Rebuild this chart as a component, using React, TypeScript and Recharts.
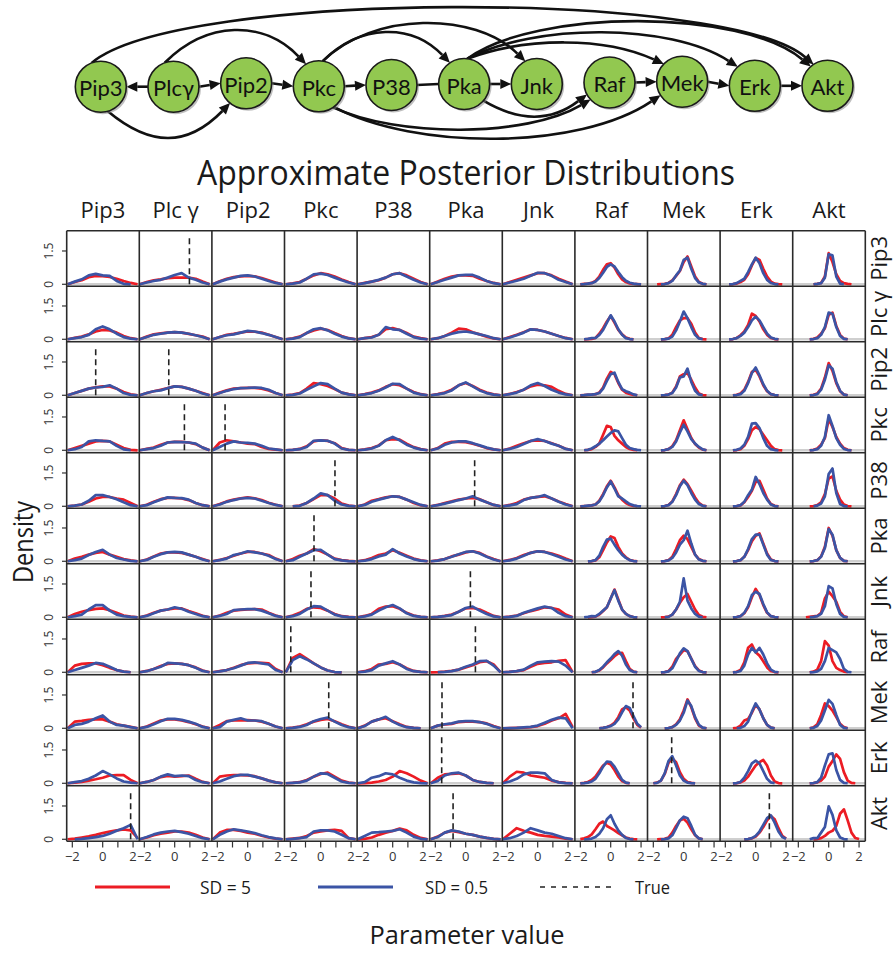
import React from 'react';
import { LineChart, Line, XAxis, YAxis, ScatterChart, Scatter } from 'recharts';

// ---------------- labels ----------------
const NODE_NAMES = ['Pip3', 'Plcγ', 'Pip2', 'Pkc', 'P38', 'Pka', 'Jnk', 'Raf', 'Mek', 'Erk', 'Akt'];
const NODE_Y = [-1.7, -1.7, 1.7, -1.3, 0, 1, 1, 2.5, 3.3, -0.8, -0.8];
const COL_HEADERS = ['Pip3', 'Plc γ', 'Pip2', 'Pkc', 'P38', 'Pka', 'Jnk', 'Raf', 'Mek', 'Erk', 'Akt'];
const ROW_LABELS = ['Pip3', 'Plc γ', 'Pip2', 'Pkc', 'P38', 'Pka', 'Jnk', 'Raf', 'Mek', 'Erk', 'Akt'];
const TITLE = 'Approximate Posterior Distributions';
const X_TITLE = 'Parameter value';
const Y_TITLE = 'Density';
const LEGEND = ['SD = 5', 'SD = 0.5', 'True'];

// ---------------- x grids / ticks ----------------
const BROAD_X = [-2.3, -1.84, -1.38, -0.92, -0.46, 0, 0.46, 0.92, 1.38, 1.84, 2.3];
const PEAK_X = [-2, -1.75, -1.5, -1.25, -1, -0.75, -0.5, -0.25, 0, 0.25, 0.5, 0.75, 1, 1.25, 1.5, 1.75, 2];
const X_TICKS = [-2, -1, 0, 1, 2];
const Y_TICKS = [0, 1.5];
const TRUE_TOP = 2.1;

// ---------------- densities (row = response, col = parent) ----------------
const RED_PIP3 = [
  [0, 0.1, 0.18, 0.32, 0.38, 0.37, 0.33, 0.25, 0.15, 0.06, 0],
  [0, 0.1, 0.18, 0.22, 0.28, 0.3, 0.3, 0.3, 0.25, 0.12, 0],
  [0, 0.14, 0.25, 0.32, 0.36, 0.38, 0.36, 0.28, 0.18, 0.08, 0],
  [0, 0.04, 0.1, 0.25, 0.4, 0.5, 0.45, 0.35, 0.22, 0.1, 0],
  [0, 0.06, 0.12, 0.18, 0.3, 0.45, 0.5, 0.4, 0.25, 0.1, 0],
  [0, 0.12, 0.25, 0.35, 0.4, 0.4, 0.38, 0.25, 0.15, 0.06, 0],
  [0, 0.1, 0.2, 0.3, 0.4, 0.5, 0.5, 0.4, 0.25, 0.12, 0],
  [0, 0.02, 0.03, 0.06, 0.15, 0.35, 0.65, 0.9, 0.95, 0.75, 0.45, 0.22, 0.1, 0.04, 0.02, 0.01, 0],
  [0, 0, 0.01, 0.02, 0.06, 0.18, 0.38, 0.6, 1.0, 1.25, 0.8, 0.35, 0.1, 0.02, 0, 0, 0],
  [0, 0, 0.01, 0.03, 0.1, 0.2, 0.45, 0.85, 1.18, 1.1, 0.7, 0.35, 0.12, 0.03, 0.01, 0, 0],
  [0, 0, 0, 0, 0, 0.02, 0.06, 0.35, 1.4, 1.0, 0.45, 0.15, 0.05, 0.02, 0, 0, 0],
];
const BLUE_PIP3 = [
  [0, 0.12, 0.22, 0.4, 0.47, 0.4, 0.38, 0.15, 0.02, 0, 0],
  [0, 0.08, 0.15, 0.2, 0.3, 0.42, 0.5, 0.3, 0.2, 0.08, 0],
  [0, 0.12, 0.22, 0.3, 0.38, 0.4, 0.35, 0.25, 0.15, 0.06, 0],
  [0, 0.03, 0.08, 0.25, 0.45, 0.48, 0.42, 0.3, 0.18, 0.08, 0],
  [0, 0.05, 0.12, 0.2, 0.3, 0.45, 0.5, 0.35, 0.2, 0.08, 0],
  [0, 0.1, 0.2, 0.3, 0.4, 0.42, 0.42, 0.3, 0.15, 0.05, 0],
  [0, 0.08, 0.16, 0.25, 0.38, 0.52, 0.5, 0.38, 0.2, 0.1, 0],
  [0, 0.01, 0.03, 0.05, 0.12, 0.28, 0.52, 0.78, 0.9, 0.8, 0.55, 0.32, 0.16, 0.07, 0.03, 0.01, 0],
  [0, 0, 0, 0.01, 0.05, 0.15, 0.4, 0.62, 1.1, 1.2, 0.7, 0.28, 0.08, 0.02, 0, 0, 0],
  [0, 0, 0.01, 0.05, 0.15, 0.25, 0.55, 0.9, 1.2, 0.95, 0.5, 0.2, 0.06, 0.01, 0, 0, 0],
  [0, 0, 0, 0, 0, 0.02, 0.05, 0.3, 1.35, 1.3, 0.35, 0.03, 0, 0, 0, 0, 0],
];
const RED_PLCG = [
  [0, 0.06, 0.12, 0.22, 0.35, 0.42, 0.4, 0.3, 0.15, 0.05, 0],
  [0, 0.12, 0.22, 0.27, 0.3, 0.32, 0.3, 0.24, 0.18, 0.12, 0],
  [0, 0.1, 0.2, 0.24, 0.3, 0.35, 0.34, 0.3, 0.2, 0.1, 0],
  [0, 0.04, 0.12, 0.28, 0.4, 0.48, 0.42, 0.28, 0.15, 0.05, 0],
  [0, 0.05, 0.1, 0.2, 0.45, 0.5, 0.42, 0.28, 0.12, 0.05, 0],
  [0, 0.05, 0.15, 0.3, 0.48, 0.45, 0.32, 0.22, 0.12, 0.04, 0],
  [0, 0.1, 0.2, 0.32, 0.45, 0.42, 0.35, 0.25, 0.15, 0.06, 0],
  [0, 0, 0.01, 0.02, 0.06, 0.25, 0.5, 0.8, 1.05, 0.75, 0.42, 0.22, 0.08, 0.02, 0, 0, 0],
  [0, 0, 0, 0.01, 0.04, 0.2, 0.55, 0.85, 0.95, 0.95, 0.7, 0.3, 0.06, 0.01, 0, 0, 0],
  [0, 0, 0.01, 0.06, 0.18, 0.35, 0.65, 1.15, 1.05, 0.8, 0.45, 0.2, 0.06, 0.01, 0, 0, 0],
  [0, 0, 0, 0, 0.02, 0.08, 0.25, 0.5, 1.1, 1.2, 0.6, 0.2, 0.03, 0, 0, 0, 0],
];
const BLUE_PLCG = [
  [0, 0.05, 0.1, 0.2, 0.45, 0.58, 0.45, 0.25, 0.1, 0.03, 0],
  [0, 0.1, 0.2, 0.25, 0.3, 0.32, 0.3, 0.25, 0.18, 0.1, 0],
  [0, 0.1, 0.18, 0.22, 0.3, 0.38, 0.35, 0.28, 0.2, 0.1, 0],
  [0, 0.03, 0.1, 0.28, 0.45, 0.5, 0.4, 0.25, 0.12, 0.04, 0],
  [0, 0.05, 0.08, 0.2, 0.55, 0.45, 0.42, 0.25, 0.1, 0.03, 0],
  [0, 0.05, 0.15, 0.25, 0.32, 0.35, 0.3, 0.22, 0.15, 0.05, 0],
  [0, 0.08, 0.18, 0.3, 0.45, 0.42, 0.35, 0.25, 0.15, 0.05, 0],
  [0, 0, 0.02, 0.05, 0.06, 0.2, 0.42, 0.75, 1.08, 0.8, 0.45, 0.2, 0.05, 0.01, 0, 0, 0],
  [0, 0, 0, 0.01, 0.03, 0.12, 0.4, 0.8, 1.25, 0.95, 0.55, 0.2, 0.04, 0, 0, 0, 0],
  [0, 0, 0.01, 0.05, 0.15, 0.3, 0.55, 0.85, 1.02, 0.85, 0.55, 0.25, 0.08, 0.02, 0, 0, 0],
  [0, 0, 0, 0, 0.01, 0.05, 0.2, 0.55, 1.2, 1.15, 0.55, 0.15, 0.02, 0, 0, 0, 0],
];
const RED_PIP2 = [
  [0, 0.1, 0.2, 0.3, 0.36, 0.4, 0.4, 0.3, 0.15, 0.04, 0],
  [0, 0.1, 0.18, 0.25, 0.32, 0.4, 0.38, 0.3, 0.2, 0.1, 0],
  [0, 0.12, 0.22, 0.3, 0.32, 0.33, 0.33, 0.3, 0.22, 0.1, 0],
  [0, 0.03, 0.1, 0.3, 0.55, 0.5, 0.42, 0.28, 0.12, 0.05, 0],
  [0, 0.05, 0.12, 0.22, 0.38, 0.5, 0.45, 0.3, 0.15, 0.05, 0],
  [0, 0.05, 0.12, 0.25, 0.45, 0.55, 0.42, 0.25, 0.12, 0.04, 0],
  [0, 0.06, 0.15, 0.25, 0.4, 0.48, 0.45, 0.38, 0.2, 0.06, 0],
  [0, 0.01, 0.02, 0.03, 0.05, 0.12, 0.35, 0.75, 1.05, 0.95, 0.55, 0.25, 0.12, 0.06, 0.02, 0, 0],
  [0, 0, 0, 0.01, 0.03, 0.12, 0.4, 0.85, 0.95, 1.0, 0.7, 0.35, 0.08, 0.01, 0, 0, 0],
  [0, 0, 0, 0.02, 0.08, 0.25, 0.6, 1.05, 1.15, 0.85, 0.45, 0.18, 0.05, 0.01, 0, 0, 0],
  [0, 0, 0, 0, 0.02, 0.08, 0.3, 0.8, 1.45, 1.1, 0.55, 0.18, 0.03, 0, 0, 0, 0],
];
const BLUE_PIP2 = [
  [0, 0.1, 0.2, 0.3, 0.35, 0.38, 0.45, 0.3, 0.1, 0.02, 0],
  [0, 0.1, 0.18, 0.22, 0.32, 0.4, 0.38, 0.3, 0.2, 0.08, 0],
  [0, 0.1, 0.2, 0.28, 0.32, 0.33, 0.35, 0.33, 0.25, 0.1, 0],
  [0, 0.02, 0.08, 0.25, 0.4, 0.55, 0.5, 0.3, 0.12, 0.04, 0],
  [0, 0.04, 0.1, 0.2, 0.35, 0.52, 0.5, 0.3, 0.12, 0.04, 0],
  [0, 0.04, 0.1, 0.22, 0.45, 0.58, 0.4, 0.22, 0.1, 0.03, 0],
  [0, 0.05, 0.12, 0.25, 0.45, 0.55, 0.42, 0.25, 0.12, 0.04, 0],
  [0, 0.01, 0.03, 0.03, 0.05, 0.1, 0.3, 0.65, 0.95, 1.02, 0.6, 0.28, 0.18, 0.12, 0.04, 0, 0],
  [0, 0, 0, 0.01, 0.03, 0.1, 0.35, 0.8, 0.85, 1.2, 0.6, 0.2, 0.04, 0, 0, 0, 0],
  [0, 0, 0, 0.01, 0.05, 0.2, 0.55, 1.0, 1.25, 0.9, 0.5, 0.2, 0.05, 0.01, 0, 0, 0],
  [0, 0, 0, 0, 0.01, 0.05, 0.25, 0.7, 1.35, 1.2, 0.6, 0.2, 0.03, 0, 0, 0, 0],
];
const RED_PKC = [
  [0, 0.1, 0.2, 0.3, 0.4, 0.42, 0.4, 0.25, 0.1, 0.02, 0],
  [0, 0.06, 0.12, 0.25, 0.35, 0.38, 0.38, 0.35, 0.28, 0.12, 0],
  [0, 0.35, 0.45, 0.4, 0.35, 0.3, 0.28, 0.15, 0.06, 0.03, 0],
  [0, 0.02, 0.06, 0.18, 0.4, 0.45, 0.42, 0.32, 0.1, 0.02, 0],
  [0, 0.04, 0.1, 0.22, 0.45, 0.5, 0.48, 0.3, 0.14, 0.05, 0],
  [0, 0.1, 0.3, 0.38, 0.38, 0.37, 0.3, 0.2, 0.1, 0.04, 0],
  [0, 0.08, 0.2, 0.32, 0.42, 0.45, 0.42, 0.32, 0.2, 0.07, 0],
  [0, 0, 0.02, 0.05, 0.15, 0.3, 0.7, 1.1, 1.05, 0.65, 0.45, 0.3, 0.15, 0.06, 0.02, 0, 0],
  [0, 0, 0, 0.01, 0.05, 0.18, 0.45, 0.9, 1.35, 0.95, 0.55, 0.28, 0.12, 0.03, 0, 0, 0],
  [0, 0, 0, 0.01, 0.05, 0.2, 0.5, 0.9, 1.05, 0.95, 0.7, 0.45, 0.2, 0.05, 0.01, 0, 0],
  [0, 0, 0, 0, 0.02, 0.08, 0.25, 0.55, 1.4, 1.05, 0.6, 0.3, 0.1, 0.02, 0, 0, 0],
];
const BLUE_PKC = [
  [0, 0.05, 0.15, 0.4, 0.45, 0.42, 0.4, 0.2, 0.04, 0, 0],
  [0, 0.05, 0.1, 0.2, 0.35, 0.38, 0.37, 0.35, 0.3, 0.12, 0],
  [0, 0.15, 0.3, 0.4, 0.35, 0.33, 0.3, 0.2, 0.08, 0.04, 0],
  [0, 0.02, 0.05, 0.15, 0.43, 0.45, 0.43, 0.3, 0.08, 0.02, 0],
  [0, 0.03, 0.08, 0.2, 0.45, 0.6, 0.45, 0.25, 0.12, 0.04, 0],
  [0, 0.08, 0.25, 0.35, 0.4, 0.4, 0.32, 0.22, 0.12, 0.04, 0],
  [0, 0.06, 0.15, 0.28, 0.42, 0.5, 0.42, 0.3, 0.2, 0.06, 0],
  [0, 0, 0.02, 0.08, 0.18, 0.3, 0.45, 0.62, 0.78, 0.9, 0.85, 0.55, 0.25, 0.1, 0.05, 0.02, 0],
  [0, 0, 0, 0.01, 0.05, 0.15, 0.4, 0.8, 1.15, 0.85, 0.5, 0.3, 0.15, 0.04, 0, 0, 0],
  [0, 0, 0, 0.02, 0.08, 0.25, 0.6, 1.2, 1.22, 1.0, 0.55, 0.2, 0.05, 0.01, 0, 0, 0],
  [0, 0, 0, 0, 0.01, 0.05, 0.2, 0.6, 1.58, 1.1, 0.55, 0.25, 0.06, 0.01, 0, 0, 0],
];
const RED_P38 = [
  [0, 0.03, 0.08, 0.2, 0.35, 0.42, 0.42, 0.35, 0.3, 0.15, 0],
  [0, 0.07, 0.2, 0.32, 0.38, 0.38, 0.35, 0.28, 0.15, 0.05, 0],
  [0, 0.1, 0.22, 0.3, 0.36, 0.4, 0.36, 0.28, 0.16, 0.07, 0],
  [0, 0, 0.03, 0.15, 0.32, 0.5, 0.5, 0.35, 0.12, 0.03, 0],
  [0, 0.08, 0.25, 0.32, 0.4, 0.45, 0.42, 0.3, 0.15, 0.05, 0],
  [0, 0.06, 0.15, 0.22, 0.3, 0.35, 0.38, 0.32, 0.18, 0.06, 0],
  [0, 0.06, 0.15, 0.3, 0.38, 0.42, 0.45, 0.35, 0.22, 0.1, 0],
  [0, 0.01, 0.02, 0.04, 0.08, 0.25, 0.55, 0.9, 1.15, 0.85, 0.5, 0.3, 0.15, 0.06, 0.02, 0, 0],
  [0, 0, 0, 0.01, 0.06, 0.22, 0.55, 0.95, 1.2, 1.0, 0.7, 0.4, 0.15, 0.03, 0, 0, 0],
  [0, 0, 0, 0.01, 0.04, 0.18, 0.42, 0.7, 1.1, 1.15, 0.75, 0.35, 0.1, 0.02, 0, 0, 0],
  [0, 0, 0, 0, 0.01, 0.05, 0.18, 0.55, 1.25, 1.35, 0.7, 0.3, 0.08, 0.01, 0, 0, 0],
];
const BLUE_P38 = [
  [0, 0.03, 0.08, 0.25, 0.5, 0.5, 0.42, 0.32, 0.18, 0.05, 0],
  [0, 0.05, 0.18, 0.3, 0.4, 0.38, 0.37, 0.3, 0.15, 0.05, 0],
  [0, 0.08, 0.2, 0.28, 0.35, 0.38, 0.35, 0.25, 0.15, 0.06, 0],
  [0, 0, 0.02, 0.15, 0.35, 0.58, 0.5, 0.25, 0.08, 0.02, 0],
  [0, 0.06, 0.2, 0.3, 0.38, 0.45, 0.42, 0.3, 0.18, 0.06, 0],
  [0, 0.05, 0.12, 0.2, 0.28, 0.35, 0.45, 0.3, 0.18, 0.06, 0],
  [0, 0.04, 0.1, 0.28, 0.38, 0.42, 0.5, 0.35, 0.2, 0.08, 0],
  [0, 0.01, 0.03, 0.04, 0.08, 0.22, 0.5, 0.85, 1.12, 0.8, 0.45, 0.35, 0.22, 0.1, 0.04, 0.01, 0],
  [0, 0, 0, 0.01, 0.05, 0.2, 0.5, 0.9, 1.15, 0.95, 0.6, 0.3, 0.1, 0.02, 0, 0, 0],
  [0, 0, 0, 0.01, 0.05, 0.2, 0.5, 0.75, 1.32, 1.0, 0.6, 0.3, 0.08, 0.01, 0, 0, 0],
  [0, 0, 0, 0, 0, 0.03, 0.12, 0.45, 1.45, 1.7, 0.6, 0.1, 0.01, 0, 0, 0, 0],
];
const RED_PKA = [
  [0, 0.12, 0.2, 0.3, 0.38, 0.42, 0.3, 0.2, 0.1, 0.04, 0],
  [0, 0.08, 0.22, 0.35, 0.4, 0.4, 0.38, 0.3, 0.2, 0.1, 0],
  [0, 0.06, 0.15, 0.25, 0.35, 0.42, 0.42, 0.35, 0.28, 0.12, 0],
  [0, 0.1, 0.25, 0.35, 0.55, 0.45, 0.3, 0.12, 0.05, 0.02, 0],
  [0, 0.05, 0.15, 0.28, 0.35, 0.5, 0.38, 0.25, 0.12, 0.04, 0],
  [0, 0.04, 0.1, 0.22, 0.3, 0.4, 0.45, 0.38, 0.22, 0.1, 0],
  [0, 0.06, 0.15, 0.28, 0.38, 0.45, 0.42, 0.35, 0.25, 0.12, 0],
  [0, 0, 0, 0.01, 0.04, 0.18, 0.5, 0.85, 1.12, 1.05, 0.65, 0.35, 0.18, 0.06, 0.02, 0, 0],
  [0, 0, 0, 0.01, 0.05, 0.2, 0.55, 0.95, 1.15, 1.0, 0.65, 0.3, 0.1, 0.02, 0, 0, 0],
  [0, 0, 0, 0.01, 0.05, 0.2, 0.5, 0.9, 1.15, 1.25, 0.8, 0.35, 0.08, 0.01, 0, 0, 0],
  [0, 0, 0, 0, 0.01, 0.05, 0.22, 0.65, 1.5, 1.15, 0.5, 0.15, 0.02, 0, 0, 0, 0],
];
const BLUE_PKA = [
  [0, 0.05, 0.12, 0.28, 0.42, 0.52, 0.3, 0.15, 0.08, 0.02, 0],
  [0, 0.06, 0.2, 0.32, 0.4, 0.42, 0.4, 0.3, 0.2, 0.08, 0],
  [0, 0.05, 0.12, 0.28, 0.35, 0.45, 0.4, 0.35, 0.25, 0.1, 0],
  [0, 0.05, 0.2, 0.35, 0.5, 0.52, 0.3, 0.1, 0.04, 0.01, 0],
  [0, 0.03, 0.1, 0.22, 0.3, 0.55, 0.35, 0.22, 0.1, 0.03, 0],
  [0, 0.03, 0.1, 0.2, 0.32, 0.42, 0.45, 0.35, 0.2, 0.08, 0],
  [0, 0.04, 0.12, 0.25, 0.38, 0.45, 0.42, 0.32, 0.2, 0.08, 0],
  [0, 0, 0, 0.01, 0.05, 0.25, 0.65, 0.98, 1.02, 0.75, 0.5, 0.3, 0.15, 0.05, 0.01, 0, 0],
  [0, 0, 0, 0.01, 0.04, 0.15, 0.4, 0.75, 0.95, 1.38, 0.8, 0.3, 0.08, 0.02, 0, 0, 0],
  [0, 0, 0, 0.01, 0.05, 0.2, 0.55, 1.0, 1.2, 1.2, 0.75, 0.3, 0.06, 0.01, 0, 0, 0],
  [0, 0, 0, 0, 0.01, 0.05, 0.2, 0.6, 1.45, 1.2, 0.5, 0.15, 0.02, 0, 0, 0, 0],
];
const RED_JNK = [
  [0, 0.15, 0.25, 0.32, 0.38, 0.4, 0.32, 0.2, 0.08, 0.03, 0],
  [0, 0.08, 0.2, 0.3, 0.35, 0.4, 0.4, 0.28, 0.18, 0.07, 0],
  [0, 0.08, 0.2, 0.3, 0.33, 0.35, 0.37, 0.35, 0.2, 0.08, 0],
  [0, 0.08, 0.2, 0.38, 0.45, 0.42, 0.3, 0.15, 0.05, 0.02, 0],
  [0, 0.06, 0.15, 0.38, 0.48, 0.5, 0.38, 0.2, 0.08, 0.02, 0],
  [0, 0.02, 0.06, 0.12, 0.25, 0.4, 0.42, 0.35, 0.2, 0.06, 0],
  [0, 0.03, 0.08, 0.18, 0.28, 0.35, 0.45, 0.42, 0.35, 0.12, 0],
  [0, 0, 0, 0.01, 0.03, 0.12, 0.28, 0.45, 0.85, 1.25, 0.8, 0.35, 0.15, 0.05, 0.01, 0, 0],
  [0, 0, 0, 0.01, 0.03, 0.12, 0.35, 0.65, 0.9, 1.05, 0.7, 0.35, 0.1, 0.02, 0, 0, 0],
  [0, 0, 0, 0.01, 0.05, 0.18, 0.45, 0.9, 1.28, 1.0, 0.55, 0.2, 0.05, 0.01, 0, 0, 0],
  [0, 0, 0, 0.02, 0.04, 0.06, 0.2, 0.85, 1.15, 0.95, 0.7, 0.25, 0.04, 0, 0, 0, 0],
];
const BLUE_JNK = [
  [0, 0.05, 0.12, 0.35, 0.55, 0.55, 0.3, 0.12, 0.05, 0.02, 0],
  [0, 0.06, 0.18, 0.3, 0.35, 0.45, 0.38, 0.25, 0.15, 0.05, 0],
  [0, 0.06, 0.15, 0.32, 0.35, 0.37, 0.37, 0.3, 0.18, 0.06, 0],
  [0, 0.05, 0.15, 0.35, 0.5, 0.48, 0.3, 0.12, 0.04, 0.01, 0],
  [0, 0.04, 0.12, 0.3, 0.45, 0.55, 0.4, 0.18, 0.06, 0.02, 0],
  [0, 0.02, 0.05, 0.1, 0.25, 0.42, 0.48, 0.3, 0.15, 0.04, 0],
  [0, 0.02, 0.06, 0.2, 0.3, 0.4, 0.48, 0.42, 0.2, 0.05, 0],
  [0, 0, 0.02, 0.05, 0.04, 0.15, 0.3, 0.45, 0.85, 1.22, 0.75, 0.35, 0.15, 0.05, 0.01, 0, 0],
  [0, 0, 0, 0, 0.02, 0.12, 0.35, 0.7, 1.75, 0.75, 0.4, 0.15, 0.03, 0, 0, 0, 0],
  [0, 0, 0, 0.01, 0.05, 0.2, 0.5, 1.0, 1.15, 1.05, 0.6, 0.22, 0.05, 0.01, 0, 0, 0],
  [0, 0, 0, 0, 0.02, 0.05, 0.15, 0.5, 1.4, 1.3, 0.6, 0.15, 0.02, 0, 0, 0, 0],
];
const RED_RAF = [
  [0, 0.3, 0.38, 0.4, 0.4, 0.32, 0.2, 0.1, 0.03, 0, 0],
  [0, 0.06, 0.15, 0.28, 0.38, 0.4, 0.38, 0.32, 0.22, 0.08, 0],
  [0, 0.05, 0.1, 0.2, 0.32, 0.4, 0.42, 0.42, 0.4, 0.15, 0],
  [0, 0.65, 0.82, 0.62, 0.4, 0.22, 0.08, 0.01, 0, null, null],
  [0, 0.05, 0.15, 0.35, 0.38, 0.45, 0.35, 0.18, 0.06, 0.02, 0],
  [0, 0.01, 0.03, 0.06, 0.12, 0.22, 0.32, 0.45, 0.5, 0.35, 0],
  [0, 0.02, 0.05, 0.1, 0.25, 0.38, 0.42, 0.45, 0.52, 0.55, 0],
  [0, 0, 0, 0, 0.02, 0.08, 0.22, 0.4, 0.55, 0.72, 0.85, 0.88, 0.5, 0.15, 0.03, 0, 0],
  [0, 0, 0, 0.01, 0.05, 0.25, 0.6, 0.8, 1.0, 0.95, 0.62, 0.28, 0.08, 0.01, 0, 0, 0],
  [0, 0, 0, 0.02, 0.1, 0.45, 1.1, 1.25, 0.9, 0.75, 0.5, 0.22, 0.06, 0.01, 0, 0, 0],
  [0, 0, 0, 0, 0.03, 0.12, 0.5, 1.4, 1.2, 0.5, 0.2, 0.1, 0.03, 0, 0, 0, 0],
];
const BLUE_RAF = [
  [0, 0.1, 0.2, 0.3, 0.42, 0.38, 0.25, 0.1, 0.03, 0, 0],
  [0, 0.05, 0.15, 0.25, 0.42, 0.4, 0.38, 0.32, 0.2, 0.06, 0],
  [0, 0.04, 0.1, 0.18, 0.3, 0.42, 0.45, 0.4, 0.35, 0.1, 0],
  [0, 0.55, 0.72, 0.58, 0.4, 0.22, 0.08, 0.01, 0, null, null],
  [0, 0.03, 0.1, 0.3, 0.4, 0.5, 0.35, 0.15, 0.05, 0.02, 0],
  [0, 0, 0.02, 0.05, 0.12, 0.25, 0.35, 0.5, 0.52, 0.3, 0],
  [0, 0.02, 0.05, 0.12, 0.3, 0.45, 0.48, 0.5, 0.48, 0.3, 0],
  [0, 0, 0, 0, 0.02, 0.1, 0.25, 0.45, 0.62, 0.82, 0.95, 0.75, 0.35, 0.1, 0.02, 0, 0],
  [0, 0, 0, 0.01, 0.04, 0.18, 0.5, 0.85, 1.08, 0.95, 0.6, 0.25, 0.06, 0.01, 0, 0, 0],
  [0, 0, 0, 0.01, 0.06, 0.3, 0.8, 1.1, 0.9, 1.1, 0.8, 0.4, 0.12, 0.02, 0, 0, 0],
  [0, 0, 0, 0, 0.01, 0.04, 0.15, 0.5, 1.1, 1.0, 0.9, 0.6, 0.15, 0.02, 0, 0, 0],
];
const RED_MEK = [
  [0, 0.3, 0.33, 0.38, 0.4, 0.4, 0.3, 0.18, 0.12, 0.06, 0],
  [0, 0.08, 0.22, 0.35, 0.4, 0.4, 0.35, 0.28, 0.18, 0.08, 0],
  [0, 0.15, 0.32, 0.35, 0.35, 0.37, 0.35, 0.3, 0.2, 0.08, 0],
  [0, 0.03, 0.08, 0.18, 0.3, 0.38, 0.42, 0.32, 0.18, 0.07, 0],
  [0, 0.12, 0.3, 0.4, 0.45, 0.32, 0.18, 0.06, 0.02, 0, 0],
  [0, 0.12, 0.17, 0.2, 0.28, 0.3, 0.3, 0.28, 0.22, 0.1, 0],
  [0, 0.01, 0.02, 0.03, 0.05, 0.1, 0.2, 0.35, 0.45, 0.65, 0.05],
  [0, 0, 0, 0, 0, 0, 0.02, 0.06, 0.12, 0.25, 0.5, 0.85, 0.95, 0.8, 0.45, 0.15, 0.03],
  [0, 0, 0, 0, 0.01, 0.05, 0.18, 0.4, 0.8, 1.3, 0.95, 0.45, 0.12, 0.02, 0, 0, 0],
  [0, 0, 0, 0.02, 0.12, 0.35, 0.42, 0.7, 1.05, 0.85, 0.45, 0.15, 0.03, 0, 0, 0, 0],
  [0, 0, 0, 0, 0.04, 0.18, 0.6, 1.12, 1.0, 0.8, 0.5, 0.2, 0.05, 0, 0, 0, 0],
];
const BLUE_MEK = [
  [0, 0.15, 0.2, 0.3, 0.45, 0.58, 0.3, 0.15, 0.12, 0.05, 0],
  [0, 0.06, 0.18, 0.32, 0.43, 0.42, 0.38, 0.3, 0.2, 0.06, 0],
  [0, 0.05, 0.3, 0.38, 0.45, 0.35, 0.35, 0.32, 0.2, 0.08, 0],
  [0, 0.02, 0.06, 0.15, 0.32, 0.42, 0.48, 0.3, 0.15, 0.05, 0],
  [0, 0.1, 0.3, 0.4, 0.52, 0.3, 0.15, 0.05, 0.02, 0, 0],
  [0, 0.12, 0.18, 0.22, 0.3, 0.32, 0.32, 0.28, 0.2, 0.08, 0],
  [0, 0.01, 0.02, 0.04, 0.06, 0.12, 0.25, 0.38, 0.48, 0.45, 0],
  [0, 0, 0, 0, 0, 0, 0.02, 0.05, 0.1, 0.2, 0.4, 0.72, 1.0, 0.92, 0.55, 0.2, 0.05],
  [0, 0, 0, 0, 0.01, 0.05, 0.15, 0.35, 0.7, 1.25, 1.0, 0.5, 0.15, 0.03, 0, 0, 0],
  [0, 0, 0, 0, 0.02, 0.1, 0.3, 0.75, 1.12, 0.85, 0.45, 0.15, 0.03, 0, 0, 0, 0],
  [0, 0, 0, 0, 0.02, 0.1, 0.35, 0.8, 1.28, 1.1, 0.6, 0.15, 0.02, 0, 0, 0, 0],
];
const RED_ERK = [
  [0, 0.03, 0.06, 0.12, 0.18, 0.25, 0.35, 0.37, 0.37, 0.15, 0],
  [0, 0.06, 0.15, 0.28, 0.33, 0.3, 0.32, 0.35, 0.2, 0.06, 0],
  [0, 0.3, 0.35, 0.37, 0.37, 0.35, 0.32, 0.22, 0.12, 0.04, 0],
  [0, 0.02, 0.05, 0.15, 0.3, 0.42, 0.48, 0.3, 0.12, 0.03, 0],
  [0, 0.01, 0.03, 0.08, 0.15, 0.3, 0.55, 0.45, 0.3, 0.12, 0],
  [0, 0.25, 0.4, 0.42, 0.45, 0.35, 0.15, 0.06, 0.02, 0, 0],
  [0, 0.3, 0.52, 0.48, 0.35, 0.3, 0.25, 0.12, 0.05, 0.02, 0],
  [0, 0.02, 0.06, 0.15, 0.3, 0.55, 0.8, 0.92, 0.85, 0.6, 0.3, 0.1, 0.02, 0, 0, 0, 0],
  [0, 0.03, 0.12, 0.42, 0.92, 1.12, 0.95, 0.5, 0.2, 0.06, 0.02, 0, 0, 0, 0, 0, 0],
  [0, 0, 0, 0.01, 0.04, 0.12, 0.3, 0.55, 0.8, 0.95, 1.05, 0.8, 0.35, 0.08, 0.01, 0, 0],
  [0, 0, 0, 0, 0.01, 0.04, 0.12, 0.3, 0.75, 1.0, 1.3, 1.1, 0.5, 0.12, 0.02, 0, 0],
];
const BLUE_ERK = [
  [0, 0.05, 0.1, 0.2, 0.35, 0.55, 0.4, 0.22, 0.08, 0.03, 0],
  [0, 0.06, 0.15, 0.3, 0.4, 0.32, 0.35, 0.32, 0.15, 0.05, 0],
  [0, 0.08, 0.2, 0.32, 0.38, 0.38, 0.3, 0.22, 0.12, 0.04, 0],
  [0, 0.02, 0.04, 0.12, 0.3, 0.45, 0.42, 0.25, 0.08, 0.02, 0],
  [0, 0.05, 0.25, 0.32, 0.45, 0.4, 0.25, 0.12, 0.04, 0.01, 0],
  [0, 0.1, 0.35, 0.45, 0.48, 0.35, 0.15, 0.06, 0.02, 0, 0],
  [0, 0.08, 0.2, 0.4, 0.48, 0.48, 0.45, 0.15, 0.04, 0.01, 0],
  [0, 0.01, 0.03, 0.08, 0.2, 0.45, 0.75, 0.98, 0.95, 0.75, 0.45, 0.15, 0.03, 0, 0, 0, 0],
  [0, 0.02, 0.12, 0.45, 1.0, 1.22, 0.8, 0.35, 0.12, 0.03, 0.01, 0, 0, 0, 0, 0, 0],
  [0, 0, 0, 0.01, 0.06, 0.25, 0.55, 0.9, 1.02, 0.9, 0.55, 0.2, 0.04, 0, 0, 0, 0],
  [0, 0, 0, 0, 0.01, 0.05, 0.25, 0.8, 1.3, 1.35, 0.6, 0.15, 0.02, 0, 0, 0, 0],
];
const RED_AKT = [
  [0, 0.03, 0.08, 0.13, 0.2, 0.28, 0.35, 0.4, 0.44, 0.4, 0.05],
  [0, 0.08, 0.18, 0.25, 0.3, 0.35, 0.35, 0.3, 0.2, 0.08, 0],
  [0, 0.3, 0.42, 0.42, 0.38, 0.3, 0.25, 0.16, 0.08, 0.03, 0],
  [0, 0.03, 0.06, 0.15, 0.3, 0.35, 0.4, 0.42, 0.38, 0.05, 0],
  [0, 0.02, 0.08, 0.2, 0.3, 0.38, 0.48, 0.4, 0.2, 0.06, 0],
  [0, 0.12, 0.3, 0.38, 0.32, 0.25, 0.2, 0.12, 0.06, 0.02, 0],
  [0, 0.25, 0.5, 0.38, 0.3, 0.2, 0.15, 0.12, 0.08, 0.03, 0],
  [0.01, 0.04, 0.1, 0.22, 0.45, 0.7, 0.8, 0.6, 0.5, 0.4, 0.28, 0.18, 0.08, 0.03, 0.01, 0, 0],
  [0, 0, 0.01, 0.02, 0.08, 0.3, 0.6, 0.85, 0.92, 0.75, 0.45, 0.18, 0.04, 0, 0, 0, 0],
  [0, 0, 0, 0, 0, 0, 0.01, 0.04, 0.12, 0.3, 0.55, 0.85, 1.05, 0.9, 0.5, 0.15, 0.03],
  [0, 0, 0, 0, 0, 0.01, 0.05, 0.15, 0.3, 0.38, 0.6, 1.15, 1.35, 0.85, 0.3, 0.06, 0.01],
];
const BLUE_AKT = [
  [null, 0, 0.02, 0.05, 0.1, 0.15, 0.25, 0.38, 0.5, 0.65, 0],
  [0, 0.1, 0.22, 0.3, 0.35, 0.38, 0.32, 0.25, 0.15, 0.05, 0],
  [0, 0.2, 0.35, 0.45, 0.4, 0.35, 0.28, 0.18, 0.1, 0.04, 0],
  [0, 0.02, 0.05, 0.1, 0.35, 0.4, 0.4, 0.35, 0.2, 0.05, 0],
  [0, 0.15, 0.3, 0.32, 0.35, 0.38, 0.45, 0.3, 0.12, 0.02, 0],
  [0, 0.1, 0.3, 0.4, 0.35, 0.25, 0.2, 0.12, 0.06, 0.02, 0],
  [0, 0.05, 0.15, 0.3, 0.5, 0.4, 0.3, 0.25, 0.15, 0.05, 0],
  [0, 0, 0.01, 0.03, 0.1, 0.25, 0.5, 0.9, 1.08, 0.7, 0.4, 0.2, 0.06, 0.01, 0, 0, 0],
  [0, 0, 0, 0.01, 0.04, 0.18, 0.5, 0.85, 1.02, 0.95, 0.6, 0.2, 0.04, 0, 0, 0, 0],
  [0, 0, 0, 0, 0, 0, 0.01, 0.05, 0.15, 0.35, 0.65, 0.95, 1.08, 0.75, 0.35, 0.1, 0.02],
  [0, 0, 0, 0, 0.05, 0.05, 0.3, 0.55, 1.48, 1.1, 0.4, 0.08, 0.01, 0, 0, 0, 0],
];

// true values: [row, col, value]
const TRUE_VALUES: [number, number, number][] = [
  [0, 1, 0.97], [2, 0, -0.46], [2, 1, -0.39], [3, 1, 0.64], [3, 2, -1.49],
  [4, 3, 0.94], [4, 5, 0.59], [5, 3, -0.44], [6, 3, -0.64], [6, 5, 0.31],
  [7, 3, -1.97], [7, 5, 0.64], [8, 3, 0.53], [8, 5, -1.56], [8, 7, 1.47],
  [9, 5, -1.58], [9, 8, -0.79], [10, 0, 1.84], [10, 5, -0.83], [10, 9, 0.9],
];

// network edges (from -> to)
type Edge = { from: number; to: number; a0: number; a1: number; apex?: number; f?: number; arrow: boolean };
const EDGES: Edge[] = [
  { from: 1, to: 0, a0: 180, a1: 0, arrow: true },
  { from: 1, to: 2, a0: 0, a1: 180, arrow: true },
  { from: 2, to: 3, a0: 0, a1: 180, arrow: true },
  { from: 3, to: 4, a0: 0, a1: 180, arrow: true },
  { from: 5, to: 4, a0: 180, a1: 0, arrow: false },
  { from: 5, to: 6, a0: 0, a1: 180, arrow: true },
  { from: 7, to: 8, a0: 0, a1: 180, arrow: true },
  { from: 8, to: 9, a0: 0, a1: 180, arrow: true },
  { from: 9, to: 10, a0: 0, a1: 180, arrow: true },
  { from: 0, to: 10, a0: -111, a1: -123, apex: 8, f: 0.12, arrow: true },
  { from: 1, to: 3, a0: -110, a1: -120, apex: 31, f: 0.3, arrow: true },
  { from: 3, to: 6, a0: -81, a1: -117, apex: 24, f: 0.25, arrow: true },
  { from: 3, to: 5, a0: -81, a1: -124, apex: 33, f: 0.3, arrow: true },
  { from: 5, to: 8, a0: -83, a1: -136, apex: 43, f: 0.3, arrow: true },
  { from: 5, to: 9, a0: -83, a1: -132, apex: 33, f: 0.25, arrow: true },
  { from: 5, to: 10, a0: -83, a1: -131, apex: 22, f: 0.2, arrow: true },
  { from: 0, to: 2, a0: 74, a1: 129, apex: 137, f: 0.35, arrow: true },
  { from: 5, to: 7, a0: 41, a1: 152, apex: 116, f: 0.35, arrow: true },
  { from: 3, to: 7, a0: 56, a1: 138, apex: 129, f: 0.25, arrow: true },
  { from: 3, to: 8, a0: 54, a1: 148, apex: 138, f: 0.25, arrow: true },
];

// ---------------- layout ----------------
const PAGE_W = 895, PAGE_H = 956;
const GRID_LEFT = 66.7, GRID_TOP = 230.7, CELL_W = 72.6, CELL_H = 55.5;
const NCOL = 11, NROW = 11;
const YAX_W = 40, XAX_H = 30;
const X_DOMAIN: [number, number] = [-2.35, 2.43];
const Y_DOMAIN: [number, number] = [-0.1, 2.4];
const RED = '#EC1C24';
const BLUE = '#3B54A5';
const FONT = "'Open Sans', 'DejaVu Sans', sans-serif";

const NET_H = 145;
const NET_X_DOMAIN: [number, number] = [-1.387, 10.929];
const NET_Y_DOMAIN: [number, number] = [-60, 85];
const UNIT_X = PAGE_W / (NET_X_DOMAIN[1] - NET_X_DOMAIN[0]);
const NODE_R = 25.5;

const RED_ROWS = [RED_PIP3, RED_PLCG, RED_PIP2, RED_PKC, RED_P38, RED_PKA, RED_JNK, RED_RAF, RED_MEK, RED_ERK, RED_AKT];
const BLUE_ROWS = [BLUE_PIP3, BLUE_PLCG, BLUE_PIP2, BLUE_PKC, BLUE_P38, BLUE_PKA, BLUE_JNK, BLUE_RAF, BLUE_MEK, BLUE_ERK, BLUE_AKT];

function toPoints(xs: number[], ys: (number | null)[]) {
  const first = ys.findIndex((v) => v != null && v > 0);
  let last = -1;
  ys.forEach((v, i) => { if (v != null && v > 0) last = i; });
  return xs.map((x, i) => ({ x, y: i < first - 1 || i > last + 1 ? null : ys[i] }));
}

const xTickFmt = (v: number) => (v === -2 ? '\u22122' : v === 0 ? '0' : v === 2 ? '2' : '');

const YTick = (props: any) => {
  const { x, y, payload } = props;
  return (
    <text transform={`translate(${x - 7},${y}) rotate(-90)`} textAnchor="middle" fontSize={12} fill="#333" fontFamily={FONT}>
      {payload.value === 0 ? '0' : '1.5'}
    </text>
  );
};

function Panel({ r, c }: { r: number; c: number }) {
  const isLeft = c === 0;
  const isBottom = r === NROW - 1;
  const w = CELL_W + (isLeft ? YAX_W : 0);
  const h = CELL_H + (isBottom ? XAX_H : 0);
  const xs = c >= 7 ? PEAK_X : BROAD_X;
  const red = toPoints(xs, RED_ROWS[r][c]);
  const blue = toPoints(xs, BLUE_ROWS[r][c]);
  const tv = TRUE_VALUES.find((t) => t[0] === r && t[1] === c);
  const base = [{ x: X_DOMAIN[0], y: 0 }, { x: X_DOMAIN[1], y: 0 }];
  return (
    <div style={{ position: 'absolute', left: GRID_LEFT + c * CELL_W - (isLeft ? YAX_W : 0), top: GRID_TOP + r * CELL_H, width: w, height: h, overflow: 'visible' }}>
      <LineChart width={w} height={h} margin={{ top: 0, right: 0, bottom: 0, left: 0 }} style={{ overflow: 'visible' }}>
        <XAxis
          type="number"
          dataKey="x"
          domain={X_DOMAIN}
          allowDataOverflow
          ticks={X_TICKS}
          interval={0}
          hide={!isBottom}
          height={XAX_H}
          axisLine={false}
          tickLine={{ stroke: '#333', strokeWidth: 1.2 }}
          tickSize={6}
          tickMargin={4}
          tickFormatter={xTickFmt}
          tick={{ fontSize: 13, fill: '#333', fontFamily: FONT }}
        />
        <YAxis
          type="number"
          dataKey="y"
          domain={Y_DOMAIN}
          allowDataOverflow
          ticks={Y_TICKS}
          interval={0}
          hide={!isLeft}
          width={YAX_W}
          axisLine={false}
          tickLine={{ stroke: '#333', strokeWidth: 1.2 }}
          tickSize={5}
          tick={<YTick />}
        />
        <Line data={base} dataKey="y" stroke="#cfcfcf" strokeWidth={2.4} dot={false} isAnimationActive={false} />
        <Line data={red} dataKey="y" stroke={RED} strokeWidth={2.7} dot={false} isAnimationActive={false} strokeLinejoin="round" />
        <Line data={blue} dataKey="y" stroke={BLUE} strokeWidth={2.7} dot={false} isAnimationActive={false} strokeLinejoin="round" />
        {tv && (
          <Line
            data={[{ x: tv[2], y: 0 }, { x: tv[2], y: TRUE_TOP }]}
            dataKey="y"
            stroke="#222"
            strokeWidth={1.6}
            strokeDasharray="6 4"
            dot={false}
            isAnimationActive={false}
          />
        )}
      </LineChart>
    </div>
  );
}

const NodeShape = (props: any) => {
  const { cx, cy, payload } = props;
  return (
    <g>
      <circle cx={cx + 2} cy={cy + 2} r={NODE_R} fill="#8a8a8a" opacity={0.55} />
      <circle cx={cx} cy={cy} r={NODE_R} fill="#92C850" stroke="#1a1a1a" strokeWidth={1.6} />
      <text x={cx} y={cy + 1} textAnchor="middle" dominantBaseline="central" fontSize={22} fontFamily="Lato, 'Open Sans', sans-serif" fill="#111">
        {payload.name}
      </text>
    </g>
  );
};

const EdgeShape = (props: any) => {
  const { cx, cy, payload } = props;
  const e: Edge = payload.edge;
  const tx = cx + (e.to - e.from) * UNIT_X;
  const ty = cy - (NODE_Y[e.to] - NODE_Y[e.from]);
  const rad = Math.PI / 180;
  const sx = cx + NODE_R * Math.cos(e.a0 * rad);
  const sy = cy + NODE_R * Math.sin(e.a0 * rad);
  const ex = tx + NODE_R * Math.cos(e.a1 * rad);
  const ey = ty + NODE_R * Math.sin(e.a1 * rad);
  const L = e.arrow ? 11 : 0;
  let d: string;
  let ux: number, uy: number;
  if (e.apex == null) {
    const len = Math.hypot(ex - sx, ey - sy);
    ux = (ex - sx) / len; uy = (ey - sy) / len;
    d = `M${sx},${sy}L${ex - ux * L},${ey - uy * L}`;
  } else {
    const f = e.f ?? 0.25;
    const c = (e.apex - (sy + ey) / 8) / 0.75;
    const c1x = sx + (ex - sx) * f;
    const c2x = ex - (ex - sx) * f;
    const len = Math.hypot(ex - c2x, ey - c);
    ux = (ex - c2x) / len; uy = (ey - c) / len;
    d = `M${sx},${sy}C${c1x},${c} ${c2x},${c} ${ex - ux * L},${ey - uy * L}`;
  }
  const bx = ex - ux * L, by = ey - uy * L;
  const hw = 5;
  return (
    <g>
      <path d={d} fill="none" stroke="#111" strokeWidth={2.6} />
      {e.arrow && (
        <polygon points={`${ex},${ey} ${bx - uy * hw},${by + ux * hw} ${bx + uy * hw},${by - ux * hw}`} fill="#111" />
      )}
    </g>
  );
};

const nodeData = NODE_NAMES.map((name, i) => ({ x: i, y: NODE_Y[i], name }));
const edgeData = EDGES.map((edge) => ({ x: edge.from, y: NODE_Y[edge.from], edge }));

function Network() {
  return (
    <div style={{ position: 'absolute', left: 0, top: 0, width: PAGE_W, height: NET_H }}>
      <ScatterChart width={PAGE_W} height={NET_H} margin={{ top: 0, right: 0, bottom: 0, left: 0 }}>
        <XAxis type="number" dataKey="x" domain={NET_X_DOMAIN} hide />
        <YAxis type="number" dataKey="y" domain={NET_Y_DOMAIN} hide />
        <Scatter data={edgeData} shape={(p: any) => <EdgeShape {...p} />} isAnimationActive={false} />
        <Scatter data={nodeData} shape={(p: any) => <NodeShape {...p} />} isAnimationActive={false} />
      </ScatterChart>
    </div>
  );
}

export default function App() {
  const cells: React.ReactNode[] = [];
  for (let r = 0; r < NROW; r++) for (let c = 0; c < NCOL; c++) cells.push(<Panel key={`${r}-${c}`} r={r} c={c} />);
  const gridW = NCOL * CELL_W, gridH = NROW * CELL_H;
  const vLines = Array.from({ length: NCOL + 1 }, (_, i) => GRID_LEFT + i * CELL_W);
  const hLines = Array.from({ length: NROW + 1 }, (_, i) => GRID_TOP + i * CELL_H);
  return (
    <div style={{ position: 'absolute', left: 0, top: 0, width: PAGE_W, height: PAGE_H, background: '#fff', overflow: 'hidden' }}>
      <style>{`.recharts-surface{overflow:visible}.recharts-wrapper{overflow:visible}`}</style>
      <Network />
      {cells}
      <svg width={PAGE_W} height={PAGE_H} style={{ position: 'absolute', left: 0, top: 0, pointerEvents: 'none' }}>
        {vLines.map((x, i) => (
          <line key={`v${i}`} x1={x} x2={x} y1={GRID_TOP} y2={GRID_TOP + gridH} stroke="#2a2a2a" strokeWidth={1.6} />
        ))}
        {hLines.map((y, i) => (
          <line key={`h${i}`} x1={GRID_LEFT} x2={GRID_LEFT + gridW} y1={y} y2={y} stroke="#2a2a2a" strokeWidth={1.6} />
        ))}
        <text x={466} y={185} textAnchor="middle" fontSize={35} fontFamily={FONT} fill="#1a1a1a" textLength={538} lengthAdjust="spacingAndGlyphs">
          {TITLE}
        </text>
        {COL_HEADERS.map((h, c) => (
          <text key={`ch${c}`} x={GRID_LEFT + (c + 0.5) * CELL_W} y={218} textAnchor="middle" fontSize={22} fontFamily={FONT} fill="#1a1a1a">
            {h}
          </text>
        ))}
        {ROW_LABELS.map((h, r) => (
          <text key={`rl${r}`} transform={`translate(887,${GRID_TOP + (r + 0.5) * CELL_H}) rotate(-90)`} textAnchor="middle" fontSize={22} fontFamily={FONT} fill="#1a1a1a">
            {h}
          </text>
        ))}
        <text transform="translate(33,542) rotate(-90)" textAnchor="middle" fontSize={27} fontFamily={FONT} fill="#1a1a1a" textLength={82} lengthAdjust="spacingAndGlyphs">
          {Y_TITLE}
        </text>
        <text x={467} y={944} textAnchor="middle" fontSize={26} fontFamily={FONT} fill="#1a1a1a" textLength={195} lengthAdjust="spacingAndGlyphs">
          {X_TITLE}
        </text>
        <line x1={95} x2={170} y1={887} y2={887} stroke={RED} strokeWidth={3} />
        <text x={200} y={894} fontSize={19} fontFamily={FONT} fill="#1a1a1a" textLength={51} lengthAdjust="spacingAndGlyphs">{LEGEND[0]}</text>
        <line x1={318} x2={393} y1={887} y2={887} stroke={BLUE} strokeWidth={3} />
        <text x={425} y={894} fontSize={19} fontFamily={FONT} fill="#1a1a1a" textLength={63} lengthAdjust="spacingAndGlyphs">{LEGEND[1]}</text>
        <line x1={540} x2={612} y1={887} y2={887} stroke="#222" strokeWidth={1.3} strokeDasharray="5 6" />
        <text x={635} y={894} fontSize={19} fontFamily={FONT} fill="#1a1a1a" textLength={35} lengthAdjust="spacingAndGlyphs">{LEGEND[2]}</text>
      </svg>
    </div>
  );
}
